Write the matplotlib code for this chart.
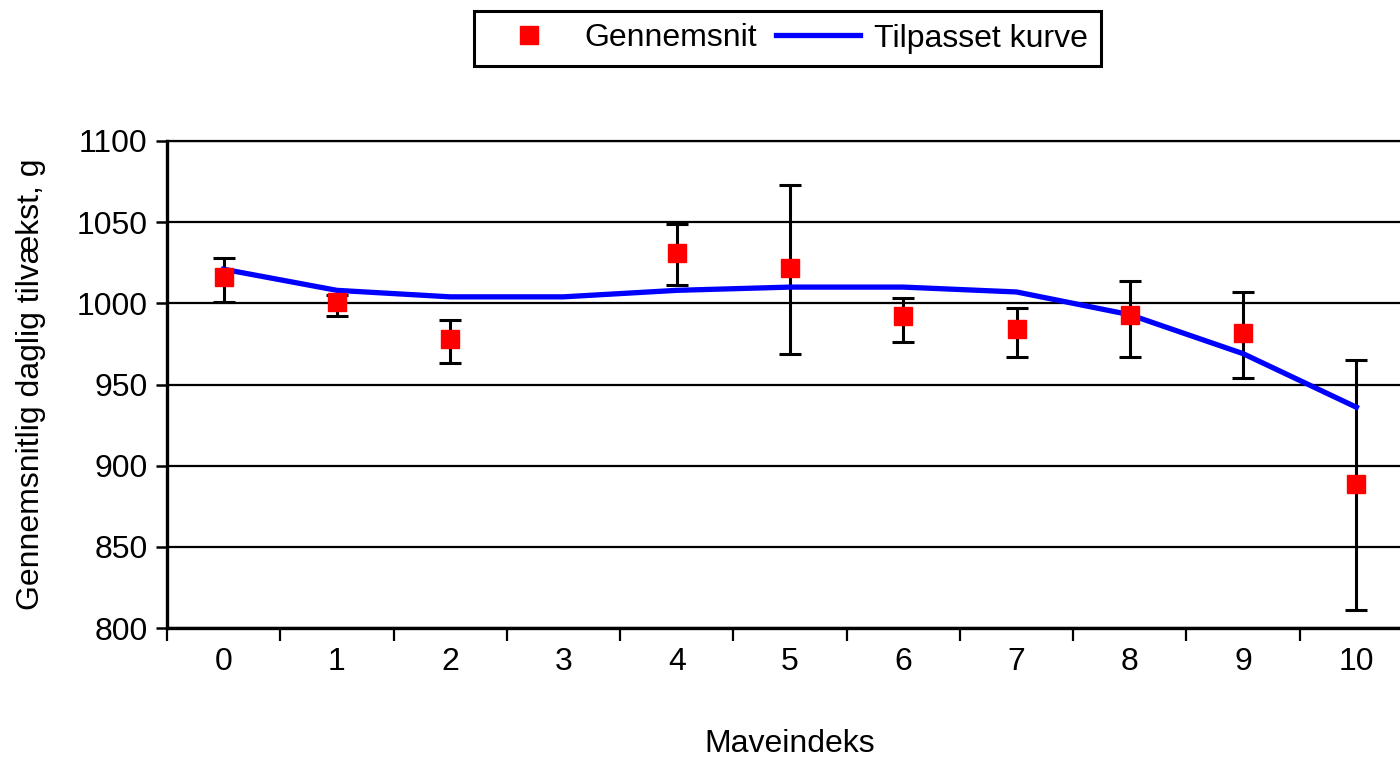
import numpy as np
import matplotlib
matplotlib.use("Agg")
import matplotlib.pyplot as plt
from matplotlib.ticker import FixedLocator, MultipleLocator

plt.rcParams['font.family'] = ['Liberation Sans', 'DejaVu Sans']

# Maveindeks categories
categories = [0, 1, 2, 3, 4, 5, 6, 7, 8, 9, 10]
# Gennemsnit (no observation at index 3)
mean_x = [0, 1, 2, 4, 5, 6, 7, 8, 9, 10]
mean_y = [1016, 1001, 978, 1031, 1022, 992, 984, 993, 982, 889]
err_hi = [1028, 1005, 990, 1049, 1073, 1003, 997, 1014, 1007, 965]
err_lo = [1001, 992, 963, 1011, 969, 976, 967, 967, 954, 811]
# Tilpasset kurve
fit_y = [1021, 1008, 1004, 1004, 1008, 1010, 1010, 1007, 993, 969, 936]

mean_y = np.array(mean_y)
yerr = [mean_y - np.array(err_lo), np.array(err_hi) - mean_y]

fig = plt.figure(figsize=(14, 7.57), dpi=100)
ax = fig.add_axes([167 / 1400, 1 - 628 / 757, 1246 / 1400, 487 / 757])

ax.set_ylim(800, 1100)
ax.set_xlim(-0.5, 10.5)
ax.yaxis.set_major_locator(MultipleLocator(50))
ax.grid(axis='y', color='black', lw=1.6, zorder=1)
ax.set_axisbelow(True)

ax.errorbar(mean_x, mean_y, yerr=yerr, fmt='none', ecolor='black',
            elinewidth=2.2, capsize=8, capthick=2.2, zorder=3)
line, = ax.plot(categories, fit_y, color='#0000ff', lw=3.8, zorder=4,
                label='Tilpasset kurve')
pts, = ax.plot(mean_x, mean_y, 's', color='#ff0000', ms=13.5, ls='none',
               zorder=5, label='Gennemsnit')

# category axis: ticks between categories, labels at categories
ax.xaxis.set_major_locator(FixedLocator(np.arange(-0.5, 11, 1)))
ax.xaxis.set_minor_locator(FixedLocator(categories))
ax.set_xticklabels([])
ax.set_xticklabels([str(c) for c in categories], minor=True)
ax.tick_params(axis='x', which='major', direction='out', length=9, width=1.6,
               color='black')
ax.tick_params(axis='x', which='minor', length=0, pad=14, labelsize=23)
ax.tick_params(axis='y', direction='out', length=8, width=1.8, pad=6,
               labelsize=23)

ax.spines['right'].set_visible(False)
ax.spines['top'].set_linewidth(1.6)
for s in ['left', 'bottom']:
    ax.spines[s].set_linewidth(2.4)
    ax.spines[s].set_color('black')

ax.set_xlabel('Maveindeks', fontsize=23)
ax.xaxis.set_label_coords((790 - 167) / 1246, -0.207)
ax.set_ylabel('Gennemsnitlig daglig tilvækst, g', fontsize=23)
ax.yaxis.set_label_coords(-0.097, 0.5)

leg = fig.legend([pts, line], ['Gennemsnit', 'Tilpasset kurve'], ncol=2,
                 loc='center', bbox_to_anchor=(787.5 / 1400, 1 - 38.5 / 757),
                 fontsize=23, frameon=True, fancybox=False, framealpha=1,
                 handlelength=2.6, handletextpad=0.45, columnspacing=0.6,
                 borderpad=0.4)
leg.get_frame().set_edgecolor('black')
leg.get_frame().set_linewidth(2.2)

fig.savefig('out.png', dpi=100)
